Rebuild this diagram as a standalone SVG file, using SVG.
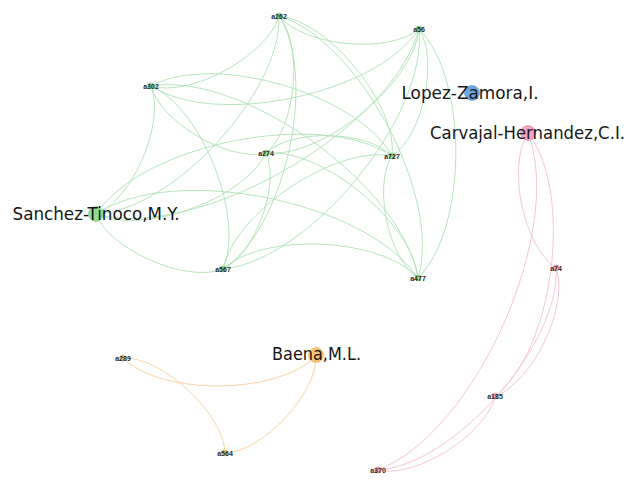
<svg xmlns="http://www.w3.org/2000/svg" width="637" height="487" viewBox="0 0 637 487">
  <style>
    .e { fill: none; stroke-width: 0.9; }
    .eg { stroke: #ade1b5; }
    .ep { stroke: #f5c0cf; }
    .eo { stroke: #f5cf9c; }
    .big { font-family: "DejaVu Sans", "Liberation Sans", sans-serif; font-size: 17px; fill: #161616; text-anchor: middle; }
    .small { font-family: "Liberation Sans", "DejaVu Sans", sans-serif; font-size: 7px; font-weight: bold; fill: #2a2a2a; text-anchor: middle; }
    .ng { fill: #8fdc93; stroke: #74c97a; stroke-width: 0.6; }
    .np { fill: #f3a2bf; stroke: #e68aab; stroke-width: 0.6; }
    .no { fill: #f7c473; stroke: #eab15a; stroke-width: 0.6; }
    .nb { fill: #6ea7e0; stroke: #5a93cf; stroke-width: 0.6; }
  </style>
  <rect width="637" height="487" fill="#ffffff"/>

  <g id="connectors">
    <!-- green cluster -->
    <path class="e eg" d="M392,156 C372.8,185.6 388.4,258.8 418,278"/>
    <path class="e eg" d="M392,156 C321.2,108.4 143.6,143.2 96,214"/>
    <path class="e eg" d="M392,156 C335.6,144.8 234.2,212.6 223,269"/>
    <path class="e eg" d="M392,156 C357.8,93.8 213.2,51.8 151,86"/>
    <path class="e eg" d="M392,156 C367.4,130.2 291.8,128.4 266,153"/>
    <path class="e eg" d="M392,156 C397.4,105.4 329.6,21.4 279,16"/>
    <path class="e eg" d="M392,156 C422.8,136 439,59.8 419,29"/>
    <path class="e eg" d="M418,278 C366.4,200.8 173.2,162.4 96,214"/>
    <path class="e eg" d="M418,278 C380.8,237.2 263.8,231.8 223,269"/>
    <path class="e eg" d="M418,278 C403,186.2 242.8,71 151,86"/>
    <path class="e eg" d="M418,278 C412.6,222.6 321.4,147.6 266,153"/>
    <path class="e eg" d="M418,278 C442.6,197.8 359.2,40.6 279,16"/>
    <path class="e eg" d="M418,278 C468,228.4 468.6,79 419,29"/>
    <path class="e eg" d="M96,214 C110.4,250.4 186.6,283.4 223,269"/>
    <path class="e eg" d="M96,214 C132.6,199.4 165.6,122.6 151,86"/>
    <path class="e eg" d="M96,214 C142.2,235.8 244.2,199.2 266,153"/>
    <path class="e eg" d="M96,214 C172.2,211 282,92.2 279,16"/>
    <path class="e eg" d="M96,214 C197.6,241.6 391.4,130.6 419,29"/>
    <path class="e eg" d="M223,269 C245.2,218 202,108.2 151,86"/>
    <path class="e eg" d="M223,269 C254.8,254.4 280.6,184.8 266,153"/>
    <path class="e eg" d="M223,269 C284.8,229.6 318.4,77.8 279,16"/>
    <path class="e eg" d="M223,269 C310.2,260.2 427.8,116.2 419,29"/>
    <path class="e eg" d="M151,86 C160.6,122.4 229.6,162.6 266,153"/>
    <path class="e eg" d="M151,86 C190.6,97.6 267.4,55.6 279,16"/>
    <path class="e eg" d="M151,86 C216,128.2 376.8,94 419,29"/>
    <path class="e eg" d="M266,153 C296,128.2 303.8,46 279,16"/>
    <path class="e eg" d="M266,153 C321.4,158.8 413.2,84.4 419,29"/>
    <path class="e eg" d="M279,16 C304.4,46.6 388.4,54.4 419,29"/>
    <!-- pink cluster -->
    <path class="e ep" d="M378,470 C416.2,478.6 486.4,434.2 495,396"/>
    <path class="e ep" d="M378,470 C475.4,432.6 565.4,230.4 528,133"/>
    <path class="e ep" d="M378,470 C454,465.2 560.8,344 556,268"/>
    <path class="e ep" d="M495,396 C554.2,350 574,192.2 528,133"/>
    <path class="e ep" d="M495,396 C532.8,382.6 569.4,305.8 556,268"/>
    <path class="e ep" d="M528,133 C506.6,165.6 523.4,246.6 556,268"/>
    <!-- orange cluster -->
    <path class="e eo" d="M225,453 C223.6,413.6 162.4,356.6 123,358"/>
    <path class="e eo" d="M225,453 C262.6,451.8 317.2,393.6 316,356"/>
    <path class="e eo" d="M123,358 C162,396.2 277.8,395 316,356"/>
  </g>

  <g id="a262"><circle class="ng" cx="279" cy="16" r="3"/><text class="small" x="279" y="18.5">a262</text></g>
  <g id="a56"><circle class="ng" cx="419" cy="29" r="3"/><text class="small" x="419" y="31.5">a56</text></g>
  <g id="a302"><circle class="ng" cx="151" cy="86" r="3"/><text class="small" x="151" y="88.5">a302</text></g>
  <g id="a274"><circle class="ng" cx="266" cy="153" r="3"/><text class="small" x="266" y="155.5">a274</text></g>
  <g id="a727"><circle class="ng" cx="392" cy="156" r="3"/><text class="small" x="392" y="158.5">a727</text></g>
  <g id="a567"><circle class="ng" cx="223" cy="269" r="3"/><text class="small" x="223" y="271.5">a567</text></g>
  <g id="a477"><circle class="ng" cx="418" cy="278" r="3"/><text class="small" x="418" y="280.5">a477</text></g>
  <g id="a74"><circle class="np" cx="556" cy="268" r="3"/><text class="small" x="556" y="270.5">a74</text></g>
  <g id="a185"><circle class="np" cx="495" cy="396" r="3"/><text class="small" x="495" y="398.5">a185</text></g>
  <g id="a370"><circle class="np" cx="378" cy="470" r="3"/><text class="small" x="378" y="472.5">a370</text></g>
  <g id="a289"><circle class="no" cx="123" cy="358" r="3"/><text class="small" x="123" y="360.5">a289</text></g>
  <g id="a564"><circle class="no" cx="225" cy="453" r="3"/><text class="small" x="225" y="455.5">a564</text></g>

  <g id="sanchez-tinoco"><circle class="ng" cx="96" cy="214" r="7.5"/><text class="big" x="96" y="219.5" textLength="167" lengthAdjust="spacingAndGlyphs">Sanchez-Tinoco,M.Y.</text></g>
  <g id="lopez-zamora"><circle class="nb" cx="472" cy="93" r="7.5"/><text class="big" x="470" y="98.5" textLength="137" lengthAdjust="spacingAndGlyphs">Lopez-Zamora,I.</text></g>
  <g id="carvajal-hernandez"><circle class="np" cx="528" cy="133" r="7.5"/><text class="big" x="527.5" y="138.5" textLength="195" lengthAdjust="spacingAndGlyphs">Carvajal-Hernandez,C.I.</text></g>
  <g id="baena"><circle class="no" cx="316" cy="355" r="7.5"/><text class="big" x="316.5" y="359.5" textLength="89" lengthAdjust="spacingAndGlyphs">Baena,M.L.</text></g>
</svg>
